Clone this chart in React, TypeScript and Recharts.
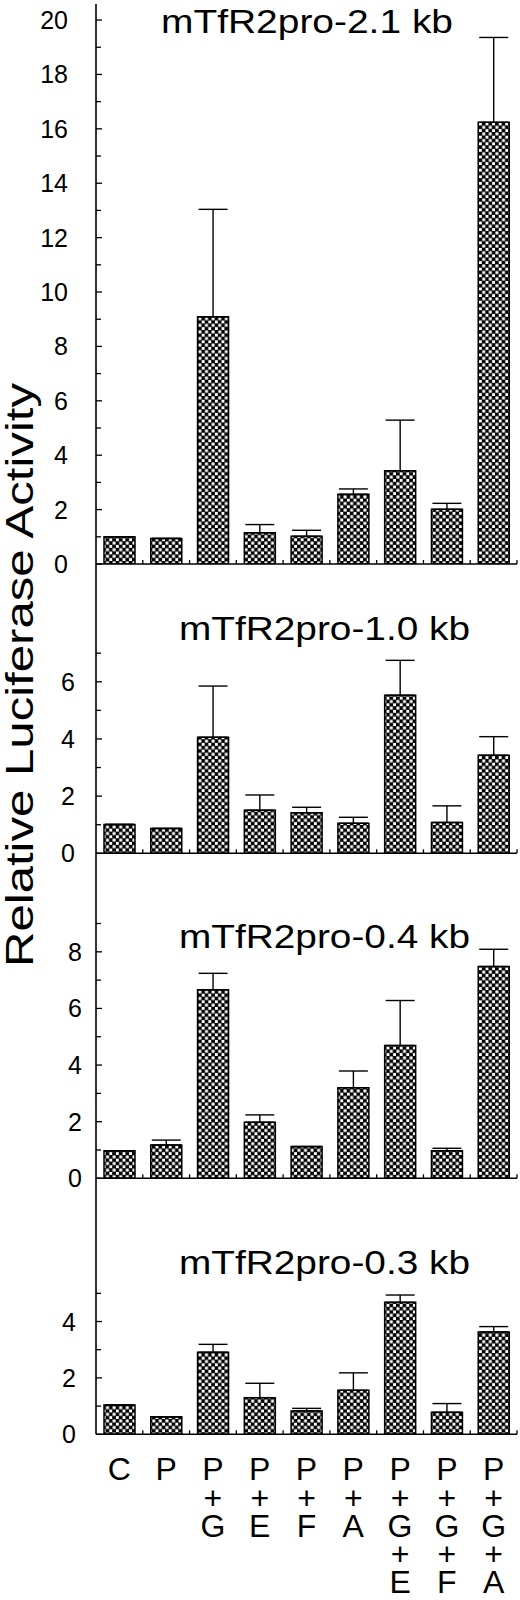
import React from "react";
import { Bar, BarChart, ErrorBar, XAxis, YAxis } from "recharts";

// treatments along the x axis
const categories = ["C", "P", "P+G", "P+E", "P+F", "P+A", "P+G+E", "P+G+F", "P+G+A"];

// mTfR2pro-2.1 kb
const kb21Mean = [1.0, 0.94, 9.09, 1.15, 1.02, 2.56, 3.43, 2.01, 16.24];
const kb21Err = [0, 0, 3.95, 0.3, 0.22, 0.2, 1.86, 0.22, 3.12];
const kb21Ticks = [0, 1, 2, 3, 4, 5, 6, 7, 8, 9, 10, 11, 12, 13, 14, 15, 16, 17, 18, 19, 20];

// mTfR2pro-1.0 kb
const kb10Mean = [1.01, 0.87, 4.06, 1.51, 1.42, 1.05, 5.53, 1.08, 3.43];
const kb10Err = [0, 0, 1.79, 0.53, 0.19, 0.21, 1.22, 0.58, 0.65];
const kb10Ticks = [0, 1, 2, 3, 4, 5, 6, 7];

// mTfR2pro-0.4 kb
const kb04Mean = [0.97, 1.18, 6.66, 1.98, 1.12, 3.2, 4.69, 0.97, 7.48];
const kb04Err = [0, 0.17, 0.58, 0.26, 0, 0.59, 1.59, 0.09, 0.61];
const kb04Ticks = [0, 1, 2, 3, 4, 5, 6, 7, 8, 9];

// mTfR2pro-0.3 kb
const kb03Mean = [1.04, 0.62, 2.91, 1.3, 0.83, 1.56, 4.68, 0.78, 3.63];
const kb03Err = [0, 0, 0.28, 0.51, 0.09, 0.62, 0.26, 0.31, 0.19];
const kb03Ticks = [0, 1, 2, 3, 4, 5];

const FONT = '"Liberation Sans", Arial, Helvetica, sans-serif';
const AXIS_X = 96;
const RIGHT_X = 517;
const BAND = (RIGHT_X - AXIS_X) / categories.length;

interface Panel {
  title: string;
  mean: number[];
  err: number[];
  ticks: number[];
  max: number;
  top: number;
  bottom: number;
  labelGap: number;
  titleX: number;
  titleY: number;
  titleLen: number;
  last?: boolean;
}

const panels: Panel[] = [
  { title: "mTfR2pro-2.1 kb", mean: kb21Mean, err: kb21Err, ticks: kb21Ticks, max: 20.59, top: 4, bottom: 564, labelGap: 28, titleX: 307, titleY: 33, titleLen: 292 },
  { title: "mTfR2pro-1.0 kb", mean: kb10Mean, err: kb10Err, ticks: kb10Ticks, max: 10.12, top: 564, bottom: 853.3, labelGap: 21, titleX: 324.5, titleY: 640, titleLen: 291 },
  { title: "mTfR2pro-0.4 kb", mean: kb04Mean, err: kb04Err, ticks: kb04Ticks, max: 11.48, top: 853.3, bottom: 1178.3, labelGap: 14, titleX: 324.5, titleY: 948, titleLen: 291 },
  { title: "mTfR2pro-0.3 kb", mean: kb03Mean, err: kb03Err, ticks: kb03Ticks, max: 9.08, top: 1178.3, bottom: 1434.3, labelGap: 20, titleX: 324.5, titleY: 1274, titleLen: 291, last: true },
];

const YTick = (props: any) => {
  const { x, y, payload, labelGap } = props;
  const v = payload.value as number;
  const major = v % 2 === 0;
  return (
    <g>
      <line x1={x} x2={x + (major ? 6 : 5)} y1={y} y2={y} stroke="#000" strokeWidth={1.3} />
      {major && (
        <text x={x - labelGap} y={y} dy="0.36em" textAnchor="end" fontSize={25} fontFamily={FONT} fill="#000">
          {v}
        </text>
      )}
    </g>
  );
};

// stacked "P / + / G" labels under the last panel, ticks at the category edges
const XTick = (props: any) => {
  const { x, y, payload, showLabel } = props;
  const bx = x + BAND / 2;
  const lines: string[] = showLabel ? String(payload.value).split(/(\+)/) : [];
  return (
    <g>
      <line x1={bx} x2={bx} y1={y} y2={y - 4} stroke="#000" strokeWidth={1.3} />
      {lines.length > 0 && (
        <text x={x} y={y + 46} textAnchor="middle" fontSize={32} fontFamily={FONT} fill="#000">
          {lines.map((s, i) => (
            <tspan key={i} x={x} dy={i === 0 ? 0 : 28.2}>
              {s}
            </tspan>
          ))}
        </text>
      )}
    </g>
  );
};

const PanelChart = ({ p }: { p: Panel }) => {
  const data = p.mean.map((m, i) => ({ cat: categories[i], mean: m, range: [0, p.err[i]] }));
  const xh = p.last ? 1600 - p.bottom : 24;
  return (
    <div style={{ position: "absolute", left: 0, top: 0 }}>
      <BarChart
        width={520}
        height={p.bottom + xh}
        data={data}
        margin={{ top: p.top, right: 520 - RIGHT_X, bottom: 0, left: 0 }}
      >
        <XAxis
          dataKey="cat"
          height={xh}
          interval={0}
          tickSize={0}
          tickMargin={0}
          tickLine={false}
          axisLine={{ stroke: "#000", strokeWidth: 1.6 }}
          tick={(t: any) => <XTick {...t} showLabel={!!p.last} />}
        />
        <YAxis
          type="number"
          width={AXIS_X}
          domain={[0, p.max]}
          ticks={p.ticks}
          allowDataOverflow
          interval={0}
          tickSize={0}
          tickMargin={0}
          tickLine={false}
          axisLine={{ stroke: "#000", strokeWidth: 1.6 }}
          tick={(t: any) => <YTick {...t} labelGap={p.labelGap} />}
        />
        <Bar dataKey="mean" fill="url(#checker)" stroke="#000" strokeWidth={1.5} barSize={31} isAnimationActive={false}>
          <ErrorBar dataKey="range" direction="y" width={14.5} stroke="#000" strokeWidth={1.4} isAnimationActive={false} />
        </Bar>
      </BarChart>
    </div>
  );
};

export default function App() {
  return (
    <div style={{ position: "absolute", left: 0, top: 0, width: 520, height: 1600, background: "#fff" }}>
      <svg width={0} height={0} style={{ position: "absolute" }}>
        <defs>
          <pattern id="checker" patternUnits="userSpaceOnUse" width={6.6} height={6.6}>
            <rect width={6.6} height={6.6} fill="#000" />
            <rect x={0.4} y={0.4} width={3} height={3} fill="#fff" />
            <rect x={3.7} y={3.7} width={3} height={3} fill="#fff" />
          </pattern>
        </defs>
      </svg>
      {panels.map((p) => (
        <PanelChart key={p.title} p={p} />
      ))}
      <svg width={520} height={1600} style={{ position: "absolute", left: 0, top: 0, pointerEvents: "none" }}>
        {panels.map((p) => (
          <text
            key={p.title}
            x={p.titleX}
            y={p.titleY}
            textAnchor="middle"
            fontSize={34}
            fontFamily={FONT}
            textLength={p.titleLen}
            lengthAdjust="spacingAndGlyphs"
            fill="#000"
          >
            {p.title}
          </text>
        ))}
        <text
          transform="translate(33, 675) rotate(-90)"
          textAnchor="middle"
          fontSize={38}
          fontFamily={FONT}
          textLength={584}
          lengthAdjust="spacingAndGlyphs"
          fill="#000"
        >
          Relative Luciferase Activity
        </text>
      </svg>
    </div>
  );
}
